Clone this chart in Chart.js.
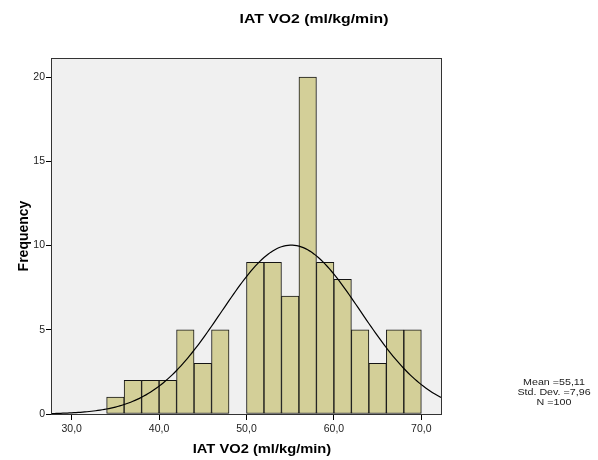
<!DOCTYPE html>
<html>
<head>
<meta charset="utf-8">
<script src="https://cdn.jsdelivr.net/npm/chart.js@4.4.1/dist/chart.umd.min.js"></script>
<style>
  html, body { margin: 0; padding: 0; background: #ffffff; }
  #wrap { width: 598px; height: 460px; position: relative; }
</style>
</head>
<body>
<div id="wrap"><canvas id="hist" width="598" height="460"></canvas></div>
<script>
// Histogram bins (lower edges, width 2) and observed frequencies
const binStarts = [34, 36, 38, 40, 42, 44, 46, 48, 50, 52, 54, 56, 58, 60, 62, 64, 66, 68];
const binWidth = 2;
const frequencies = [1, 2, 2, 2, 5, 3, 5, 0, 9, 9, 7, 20, 9, 8, 5, 3, 5, 5];

// Axis ticks
const xTickValues = [30, 40, 50, 60, 70];
const xTickLabels = ['30,0', '40,0', '50,0', '60,0', '70,0'];
const yTickValues = [0, 5, 10, 15, 20];

// Summary statistics shown beside the plot
const statMean = 55.11;
const statStdDev = 7.96;
const statN = 100;
const statLines = ['Mean =55,11', 'Std. Dev. =7,96', 'N =100'];

const titleText = 'IAT VO2 (ml/kg/min)';
const xTitleText = 'IAT VO2 (ml/kg/min)';
const yTitleText = 'Frequency';

const xMin = 27.75, xMax = 72.25;
const yMax = 21.07;

// Bars centred on their bins
const barData = binStarts.map((s, i) => ({ x: s + binWidth / 2, y: frequencies[i] }));

// Fitted normal curve, scaled to counts per bin (N * width * density)
const curveData = [];
for (let x = xMin; x <= xMax + 1e-9; x += 0.25) {
  const z = (x - statMean) / statStdDev;
  const dens = Math.exp(-0.5 * z * z) / (statStdDev * Math.sqrt(2 * Math.PI));
  curveData.push({ x: x, y: statN * binWidth * dens });
}

const FONT = '"Liberation Sans", Arial, sans-serif';

function stretchedText(ctx, text, x, y, font, sx, align) {
  ctx.save();
  ctx.font = font;
  ctx.textAlign = align || 'center';
  ctx.textBaseline = 'middle';
  ctx.translate(x, y);
  ctx.scale(sx, 1);
  ctx.fillText(text, 0, 0);
  ctx.restore();
}

const frame = {
  id: 'frame',
  beforeDatasetsDraw(chart) {
    const { ctx, chartArea: a } = chart;
    ctx.save();
    ctx.fillStyle = '#f0f0f0';
    ctx.fillRect(a.left, a.top, a.right - a.left, a.bottom - a.top);
    ctx.restore();
  },
  afterDraw(chart) {
    const { ctx, chartArea: a } = chart;
    ctx.save();
    ctx.strokeStyle = '#333333';
    ctx.lineWidth = 1;
    ctx.strokeRect(Math.round(a.left) - 0.5, Math.round(a.top) - 0.5,
                   Math.round(a.right - a.left) + 1, Math.round(a.bottom - a.top) + 1);

    ctx.fillStyle = '#000000';
    stretchedText(ctx, titleText, 314, 19, 'bold 13.5px ' + FONT, 1.17);
    stretchedText(ctx, xTitleText, 262, 449, 'bold 13px ' + FONT, 1.13);

    // rotated y-axis title
    ctx.save();
    ctx.font = 'bold 14px ' + FONT;
    ctx.textAlign = 'center';
    ctx.textBaseline = 'middle';
    ctx.translate(24, 236);
    ctx.rotate(-Math.PI / 2);
    ctx.fillText(yTitleText, 0, 0);
    ctx.restore();

    ctx.fillStyle = '#222222';
    statLines.forEach((t, i) => {
      stretchedText(ctx, t, 554, 382 + i * 10, '9.3px ' + FONT, 1.15);
    });
    ctx.restore();
  }
};

new Chart(document.getElementById('hist'), {
  type: 'bar',
  data: {
    datasets: [
      {
        type: 'line',
        data: curveData,
        borderColor: '#000000',
        borderWidth: 1.2,
        pointRadius: 0,
        tension: 0,
        fill: false,
        order: 0
      },
      {
        type: 'bar',
        data: barData,
        backgroundColor: '#d3cf98',
        borderColor: '#141414',
        borderWidth: 1,
        borderSkipped: false,
        barPercentage: 1,
        categoryPercentage: 1,
        order: 1
      }
    ]
  },
  options: {
    responsive: false,
    animation: false,
    devicePixelRatio: 1,
    layout: { padding: { top: 59, right: 157, left: 0, bottom: 0 } },
    plugins: {
      legend: { display: false },
      tooltip: { enabled: false },
      title: { display: false }
    },
    scales: {
      x: {
        type: 'linear',
        min: xMin,
        max: xMax,
        offset: false,
        afterFit(scale) { scale.height = 46; },
        afterBuildTicks(scale) { scale.ticks = xTickValues.map(v => ({ value: v })); },
        grid: { offset: false, drawOnChartArea: false, drawTicks: true, tickLength: 6, color: '#000000', lineWidth: 1 },
        border: { display: true, color: '#222222', width: 1.3 },
        ticks: {
          padding: 3,
          color: '#222222',
          font: { family: FONT, size: 10.5 },
          maxRotation: 0,
          callback(v) {
            const k = xTickValues.indexOf(v);
            return k >= 0 ? xTickLabels[k] : '';
          }
        }
      },
      y: {
        type: 'linear',
        min: 0,
        max: yMax,
        afterFit(scale) { scale.width = 52; },
        afterBuildTicks(scale) { scale.ticks = yTickValues.map(v => ({ value: v })); },
        grid: { drawOnChartArea: false, drawTicks: true, tickLength: 6, color: '#000000', lineWidth: 1 },
        border: { display: true, color: '#333333' },
        ticks: {
          padding: 1,
          color: '#222222',
          font: { family: FONT, size: 10.5 }
        }
      }
    }
  },
  plugins: [frame]
});
</script>
</body>
</html>
